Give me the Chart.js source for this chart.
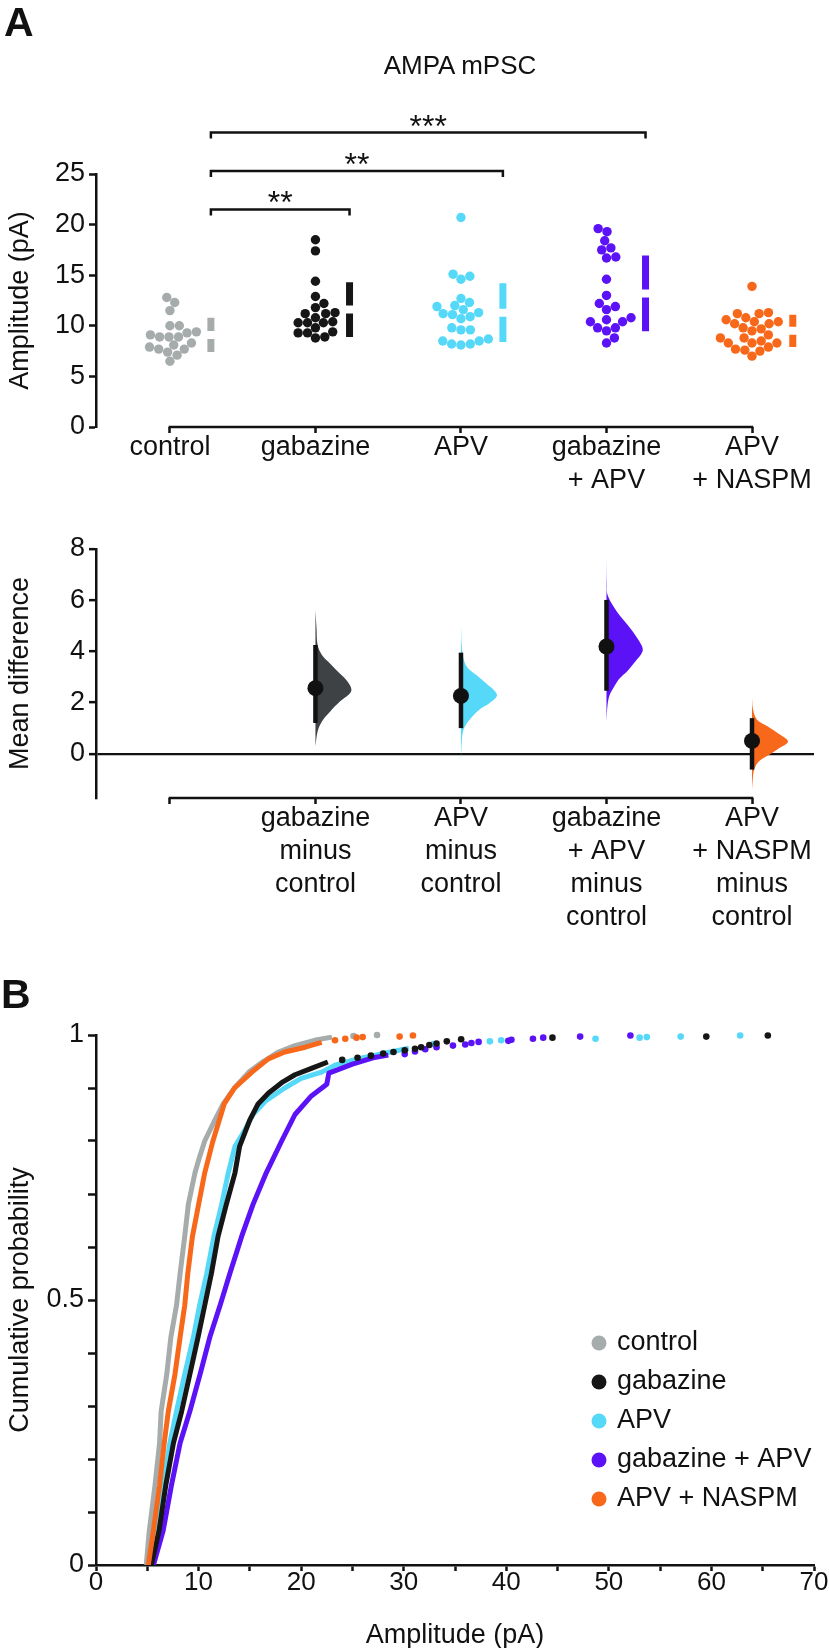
<!DOCTYPE html>
<html>
<head>
<meta charset="utf-8">
<script src="https://cdn.jsdelivr.net/npm/chart.js@4.4.1/dist/chart.umd.min.js"></script>
<style>
  body { margin: 0; background: #fff; width: 829px; height: 1648px; position: relative; overflow: hidden;
         font-family: "Liberation Sans", Arial, Helvetica, sans-serif; color: #111; }
  canvas { position: absolute; left: 0; }
  .lbl { position: absolute; line-height: 1; white-space: nowrap; }
</style>
</head>
<body>
<canvas id="swarm" width="829" height="500" style="top:0"></canvas>
<canvas id="diff" width="829" height="450" style="top:500px"></canvas>
<canvas id="cdf" width="829" height="698" style="top:950px"></canvas>
<div class="lbl" style="left:4px;top:2px;font-size:41px;font-weight:bold">A</div>
<div class="lbl" style="left:300px;width:320px;text-align:center;top:52px;font-size:26px">AMPA mPSC</div>
<div class="lbl" style="left:1px;top:974px;font-size:41px;font-weight:bold">B</div>
<script>
// groups and colours
const groups = ['control', 'gabazine', 'APV', 'gabazine + APV', 'APV + NASPM'];
const colors = ['#a6abab', '#161616', '#56d8f8', '#5b12f6', '#f8681a'];

// mPSC amplitude per cell (pA)
const controlAmp = [12.8, 12.3, 11.5, 10.0, 10.0, 9.4, 9.3, 9.1, 8.9, 8.9, 8.9, 8.3, 8.1, 7.9, 7.7, 7.7, 7.4, 7.1, 6.5];
const gabazineAmp = [18.5, 17.4, 14.4, 12.9, 12.2, 11.8, 11.3, 11.2, 11.2, 10.8, 10.4, 10.3, 10.3, 10.3, 9.8, 9.4, 9.3, 9.3, 8.9, 8.8];
const apvAmp = [20.7, 15.1, 14.9, 14.6, 12.7, 12.3, 12.0, 11.9, 11.6, 11.3, 11.2, 11.1, 10.9, 10.7, 9.8, 9.6, 9.6, 8.7, 8.5, 8.5, 8.2, 8.2, 8.1];
const gabApvAmp = [19.6, 19.3, 18.4, 17.7, 17.5, 16.8, 16.7, 14.6, 13.0, 12.2, 11.9, 11.6, 10.8, 10.6, 10.4, 10.4, 9.8, 9.8, 9.5, 8.8, 8.3];
const naspmAmp = [13.9, 11.3, 11.2, 11.2, 10.8, 10.6, 10.4, 10.4, 10.2, 10.2, 9.8, 9.7, 9.5, 9.1, 8.8, 8.8, 8.5, 8.3, 8.3, 8.3, 7.9, 7.7, 7.6, 7.5, 7.0];
const groupMeans = [9.1, 11.6, 11.3, 13.2, 9.5];
const groupSDs = [1.7, 2.7, 2.9, 3.75, 1.6];

// significance vs control
const sigPairs = [[0, 1], [0, 2], [0, 3]];
const sigStars = ['**', '**', '***'];

// mean difference vs control, 95% CI
const diffMean = [2.56, 2.26, 4.19, 0.5];
const ciLow = [1.2, 1.0, 2.46, -0.62];
const ciHigh = [4.25, 3.95, 6.01, 1.39];
// bootstrap distributions: [mean difference, relative density]
const gabazineBoot = [[5.62, 0], [4.9, 0.03], [4.25, 0.06], [3.86, 0.18], [3.6, 0.35], [3.21, 0.62], [2.82, 0.89], [2.5, 1], [2.3, 0.92], [2.04, 0.68], [1.65, 0.41], [1.26, 0.18], [0.87, 0.06], [0.29, 0]];
const apvBoot = [[5.03, 0], [4.06, 0.03], [3.54, 0.11], [3.28, 0.24], [3.02, 0.48], [2.76, 0.69], [2.3, 1], [1.98, 0.8], [1.72, 0.51], [1.33, 0.24], [0.94, 0.07], [0.42, 0.02], [-0.31, 0]];
const gabApvBoot = [[7.64, 0], [6.6, 0.01], [6.2, 0.03], [5.55, 0.29], [4.9, 0.66], [4.25, 0.97], [3.99, 1], [3.6, 0.8], [3.21, 0.57], [2.95, 0.37], [2.69, 0.24], [2.3, 0.09], [1.91, 0.03], [1.26, 0]];
const naspmBoot = [[2.17, 0], [1.72, 0.03], [1.33, 0.14], [1.07, 0.43], [0.81, 0.71], [0.48, 1], [0.22, 0.76], [-0.04, 0.48], [-0.3, 0.19], [-0.62, 0.06], [-1.01, 0.02], [-1.4, 0]];

// cumulative distributions of event amplitudes: [pA, probability]
const controlCdf = [[4.9, 0], [5.2, 0.065], [5.75, 0.15], [6.2, 0.23], [6.35, 0.29], [6.9, 0.36], [7.3, 0.43], [7.85, 0.49], [8.2, 0.55], [8.65, 0.62], [9.0, 0.68], [9.65, 0.74], [10.1, 0.77], [10.6, 0.8], [11.6, 0.84], [12.4, 0.87], [13.5, 0.9], [14.9, 0.93], [16.3, 0.95], [17.8, 0.968], [19.4, 0.98], [21.3, 0.99], [23.0, 0.996]];
const controlTail = [[25.1, 0.998], [27.4, 1.0]];
const gabazineCdf = [[5.4, 0], [6.15, 0.065], [6.8, 0.15], [7.55, 0.23], [8.35, 0.29], [9.15, 0.36], [9.95, 0.43], [10.6, 0.49], [11.25, 0.55], [11.9, 0.62], [12.7, 0.68], [13.55, 0.74], [14.0, 0.79], [15.0, 0.84], [15.8, 0.87], [16.8, 0.89], [18.1, 0.91], [19.4, 0.925], [21.0, 0.937], [22.6, 0.949]];
const gabazineTail = [[24.0, 0.953], [25.5, 0.957], [26.8, 0.961], [28.0, 0.965], [29.0, 0.968], [30.1, 0.971], [31.1, 0.974], [31.7, 0.977], [32.5, 0.981], [33.2, 0.984], [34.2, 0.988], [35.6, 0.992], [44.5, 0.995], [59.5, 0.997], [65.5, 0.999]];
const apvCdf = [[5.1, 0], [5.9, 0.065], [6.55, 0.15], [7.2, 0.23], [7.85, 0.29], [8.65, 0.36], [9.5, 0.43], [10.1, 0.49], [10.8, 0.55], [11.5, 0.62], [12.25, 0.68], [12.9, 0.74], [13.55, 0.79], [14.5, 0.82], [15.3, 0.85], [16.5, 0.875], [18.4, 0.9], [20.0, 0.918], [22.0, 0.93], [23.3, 0.943], [25.5, 0.955], [28.0, 0.965], [30.5, 0.975]];
const apvTail = [[32.9, 0.983], [38.4, 0.988], [39.5, 0.99], [48.7, 0.993], [53.0, 0.995], [53.7, 0.996], [57.0, 0.997], [62.8, 0.999]];
const gabApvCdf = [[5.6, 0], [6.55, 0.065], [7.35, 0.15], [8.2, 0.23], [9.15, 0.29], [10.15, 0.36], [11.1, 0.43], [12.1, 0.49], [13.05, 0.55], [14.2, 0.62], [15.3, 0.68], [16.6, 0.74], [18.1, 0.8], [19.4, 0.85], [21.0, 0.885], [22.5, 0.907], [22.7, 0.928], [25.0, 0.945], [27.0, 0.957], [28.5, 0.962]];
const gabApvTail = [[30.1, 0.964], [31.1, 0.969], [32.1, 0.973], [33.2, 0.977], [34.8, 0.98], [36.0, 0.982], [36.6, 0.985], [37.3, 0.987], [40.2, 0.989], [40.5, 0.991], [42.6, 0.993], [43.6, 0.995], [47.2, 0.997], [52.1, 0.999]];
const naspmCdf = [[5.1, 0], [5.6, 0.065], [6.2, 0.15], [6.65, 0.23], [7.05, 0.29], [7.7, 0.36], [8.2, 0.43], [8.65, 0.49], [8.95, 0.55], [9.4, 0.62], [10.0, 0.68], [10.6, 0.74], [11.4, 0.8], [12.5, 0.87], [13.5, 0.9], [15.2, 0.93], [16.8, 0.955], [18.4, 0.968], [20.4, 0.977], [22.0, 0.986]];
const naspmTail = [[23.3, 0.99], [24.3, 0.993], [25.4, 0.995], [26.0, 0.996], [29.6, 0.997], [30.9, 0.999]];

// ---- layout / style ----
const INK = '#111';
const AXIS_W = 2.5;
const FONT = '"Liberation Sans", Arial, Helvetica, sans-serif';
const PLOT_LEFT = 96, PLOT_RIGHT = 814;
const X_MIN = -0.508, X_MAX = 4.426;
const pxPerX = (PLOT_RIGHT - PLOT_LEFT) / (X_MAX - X_MIN);

Chart.defaults.font.family = FONT;
Chart.defaults.color = INK;

const splitName = name => name.replace(' + ', '\n+ ').split('\n');
const topLabels = groups.map(splitName);
const diffLabels = groups.map((g, i) => i === 0 ? '' : splitName(g).concat(['minus', groups[0]]));

function catAxis(labels, pad, height) {
  return {
    type: 'linear', min: X_MIN, max: X_MAX,
    afterBuildTicks: s => { s.ticks = labels.map((_, i) => ({ value: i })); },
    ticks: { autoSkip: false, maxRotation: 0, padding: pad, font: { size: 27, lineHeight: 1.22 }, color: INK,
             callback: v => labels[v] },
    grid: { drawOnChartArea: false, tickLength: 6, tickColor: INK, tickWidth: AXIS_W },
    border: { display: false },
    afterFit: s => { s.height = height; }
  };
}

// x axis line that runs only between first and last group
const catAxisLine = {
  id: 'catAxisLine',
  afterDraw(chart) {
    const { ctx, chartArea, scales: { x } } = chart;
    ctx.save();
    ctx.strokeStyle = INK;
    ctx.lineWidth = AXIS_W;
    ctx.beginPath();
    ctx.moveTo(x.getPixelForValue(0) - AXIS_W / 2, chartArea.bottom);
    ctx.lineTo(x.getPixelForValue(groups.length - 1) + AXIS_W / 2, chartArea.bottom);
    ctx.stroke();
    ctx.restore();
  }
};

function beeswarm(ys, d) {
  const idx = ys.map((_, i) => i).sort((a, b) => ys[a] - ys[b]);
  const placed = [], xs = [];
  idx.forEach(i => {
    const y = ys[i];
    const cands = [0];
    placed.forEach(p => {
      const dy = Math.abs(p.y - y);
      if (dy < d) {
        const dx = Math.sqrt(d * d - dy * dy);
        cands.push(p.x + dx, p.x - dx);
      }
    });
    cands.sort((a, b) => Math.abs(a) - Math.abs(b));
    const ok = cands.find(c => placed.every(p => (p.x - c) ** 2 + (p.y - y) ** 2 >= d * d - 0.01));
    xs[i] = ok;
    placed.push({ x: ok, y });
  });
  return xs;
}

// ---- A top: swarm plot ----
const TOP1 = 174, BOTTOM1 = 427, YMAX1 = 25;
const pxPerY1 = (BOTTOM1 - TOP1) / YMAX1;
const DOT_R = 4.7;
const swarmVals = [controlAmp, gabazineAmp, apvAmp, gabApvAmp, naspmAmp];
const swarmSets = [], barSets = [], barX = [];
swarmVals.forEach((vals, i) => {
  const offs = beeswarm(vals.map(v => v * pxPerY1), DOT_R * 2);
  const bx = i + (Math.max(...offs) + 14.5) / pxPerX;
  barX.push(bx);
  swarmSets.push({
    type: 'scatter', data: vals.map((v, k) => ({ x: i + offs[k] / pxPerX, y: v })),
    pointRadius: DOT_R, pointBackgroundColor: colors[i], pointBorderWidth: 0, order: 3
  });
  const m = groupMeans[i], s = groupSDs[i], g = 4 / pxPerY1;
  barSets.push({
    type: 'line', showLine: true,
    data: [{ x: bx, y: m + s }, { x: bx, y: m + g }, { x: bx, y: null }, { x: bx, y: m - g }, { x: bx, y: m - s }],
    borderColor: colors[i], borderWidth: 7, borderCapStyle: 'butt', pointRadius: 0, spanGaps: false, order: 2
  });
});
const bracketSets = sigPairs.map(([a, b], k) => {
  const lvl = 21.5 + k * 3.8, drop = 0.6;
  return {
    type: 'line', showLine: true, label: sigStars[k],
    data: [{ x: barX[a], y: lvl - drop }, { x: barX[a], y: lvl }, { x: barX[b], y: lvl }, { x: barX[b], y: lvl - drop }],
    borderColor: INK, borderWidth: 2.5, borderJoinStyle: 'miter', pointRadius: 0, clip: false, order: 1
  };
});

const starsPlugin = {
  id: 'stars',
  afterDatasetsDraw(chart) {
    const { ctx, scales: { x, y } } = chart;
    ctx.save();
    ctx.font = '32px ' + FONT;
    ctx.textAlign = 'center';
    ctx.textBaseline = 'alphabetic';
    ctx.fillStyle = INK;
    bracketSets.forEach(b => {
      const p = b.data;
      ctx.fillText(b.label, x.getPixelForValue((p[1].x + p[2].x) / 2), y.getPixelForValue(p[1].y) + 4);
    });
    ctx.restore();
  }
};

new Chart(document.getElementById('swarm'), {
  type: 'scatter',
  data: { datasets: [...bracketSets, ...barSets, ...swarmSets] },
  options: {
    responsive: false, animation: false,
    layout: { padding: { top: TOP1, right: 829 - PLOT_RIGHT, left: 0, bottom: 0 } },
    scales: {
      x: catAxis(topLabels, -2, 500 - BOTTOM1),
      y: {
        min: 0, max: YMAX1,
        ticks: { stepSize: 5, font: { size: 27 }, color: INK, padding: 4 },
        grid: { drawOnChartArea: false, tickLength: 7, tickColor: INK, tickWidth: AXIS_W },
        border: { color: INK, width: AXIS_W },
        title: { display: true, text: 'Amplitude (pA)', color: INK, font: { size: 27 }, padding: { top: 4, bottom: 0 } },
        afterFit: s => { s.width = PLOT_LEFT; }
      }
    },
    plugins: { legend: { display: false }, tooltip: { enabled: false } }
  },
  plugins: [catAxisLine, starsPlugin]
});

// ---- A bottom: mean difference ----
const diffColors = ['#3e4245', colors[2], colors[3], colors[4]];
const bootProfiles = [gabazineBoot, apvBoot, gabApvBoot, naspmBoot];
const VIOLIN_W = 36 / pxPerX;
const violinSets = bootProfiles.map((prof, k) => ({
  type: 'line', showLine: true, data: prof.map(([v, d]) => ({ x: k + 1 + d * VIOLIN_W, y: v })),
  fill: 'shape', backgroundColor: diffColors[k], borderColor: 'rgba(0,0,0,0)', borderWidth: 1,
  pointRadius: 0, tension: 0.35, order: 3
}));
const ciSets = diffMean.map((_, k) => ({
  type: 'line', showLine: true, data: [{ x: k + 1, y: ciLow[k] }, { x: k + 1, y: ciHigh[k] }],
  borderColor: INK, borderWidth: 4.5, borderCapStyle: 'butt', pointRadius: 0, order: 2
}));
const meanSet = {
  type: 'scatter', data: diffMean.map((m, k) => ({ x: k + 1, y: m })),
  pointRadius: 8, pointBackgroundColor: INK, pointBorderWidth: 0, order: 1
};

new Chart(document.getElementById('diff'), {
  type: 'scatter',
  data: { datasets: [...violinSets, ...ciSets, meanSet] },
  options: {
    responsive: false, animation: false,
    layout: { padding: { top: 49, right: 829 - PLOT_RIGHT, left: 0, bottom: 0 } },
    scales: {
      x: catAxis(diffLabels, -2, 152),
      y: {
        min: -1.73, max: 8, z: 1,
        afterBuildTicks: s => { s.ticks = [0, 2, 4, 6, 8].map(v => ({ value: v })); },
        ticks: { font: { size: 27 }, color: INK, padding: 4 },
        grid: {
          drawOnChartArea: true, tickLength: 7, tickColor: INK, tickWidth: AXIS_W, lineWidth: 2.3,
          color: c => (c.tick && c.tick.value === 0) ? INK : 'rgba(0,0,0,0)'
        },
        border: { color: INK, width: AXIS_W },
        title: { display: true, text: 'Mean difference', color: INK, font: { size: 27 }, padding: { top: 4, bottom: 0 } },
        afterFit: s => { s.width = PLOT_LEFT; }
      }
    },
    plugins: { legend: { display: false }, tooltip: { enabled: false } }
  },
  plugins: [catAxisLine]
});

// ---- B: cumulative probability ----
const cdfSets = [controlCdf, gabazineCdf, apvCdf, gabApvCdf, naspmCdf];
const tailSets = [controlTail, gabazineTail, apvTail, gabApvTail, naspmTail];
const cdfOrder = [5, 2, 4, 3, 1];
const cdfDatasets = [];
cdfSets.forEach((pts, i) => {
  cdfDatasets.push({
    type: 'line', showLine: true, data: pts.map(([a, p]) => ({ x: a, y: p })),
    borderColor: colors[i], borderWidth: 5, borderJoinStyle: 'round', pointRadius: 0, order: cdfOrder[i]
  });
  cdfDatasets.push({
    type: 'scatter', data: tailSets[i].map(([a, p]) => ({ x: a, y: p })),
    pointRadius: 3.3, pointBackgroundColor: colors[i], pointBorderWidth: 0, clip: false, order: cdfOrder[i]
  });
});

const dotLegend = {
  id: 'dotLegend',
  afterDraw(chart, args, opts) {
    const ctx = chart.ctx;
    ctx.save();
    ctx.font = '27px ' + FONT;
    ctx.textBaseline = 'middle';
    groups.forEach((g, i) => {
      const y = opts.y + i * opts.gap;
      ctx.fillStyle = colors[i];
      ctx.beginPath();
      ctx.arc(opts.x, y, 7.5, 0, Math.PI * 2);
      ctx.fill();
      ctx.fillStyle = INK;
      ctx.fillText(g, opts.x + 18, y);
    });
    ctx.restore();
  }
};

new Chart(document.getElementById('cdf'), {
  type: 'scatter',
  data: { datasets: cdfDatasets },
  options: {
    responsive: false, animation: false,
    layout: { padding: { top: 85, right: 829 - PLOT_RIGHT, left: 0, bottom: 0 } },
    scales: {
      x: {
        min: 0, max: 70,
        ticks: { stepSize: 5, autoSkip: false, maxRotation: 0, padding: -1, font: { size: 26, lineHeight: 1 }, color: INK,
                 callback: v => v % 10 === 0 ? String(v) : '' },
        grid: { drawOnChartArea: false, tickLength: 6, tickColor: INK, tickWidth: AXIS_W },
        border: { color: INK, width: AXIS_W },
        title: { display: true, text: 'Amplitude (pA)', color: INK, font: { size: 27, lineHeight: 0.9 }, padding: 0 },
        afterFit: s => { s.height = 83; }
      },
      y: {
        min: 0, max: 1,
        ticks: { stepSize: 0.1, autoSkip: false, font: { size: 27 }, color: INK, padding: 4,
                 callback: v => { const r = Math.round(v * 10); return r % 5 === 0 ? String(r / 10) : ''; } },
        grid: { drawOnChartArea: false, tickLength: 8, tickColor: INK, tickWidth: AXIS_W },
        border: { color: INK, width: AXIS_W },
        title: { display: true, text: 'Cumulative probability', color: INK, font: { size: 27 }, padding: { top: 4, bottom: 0 } },
        afterFit: s => { s.width = PLOT_LEFT; }
      }
    },
    plugins: { legend: { display: false }, tooltip: { enabled: false }, dotLegend: { x: 599, y: 393, gap: 39 } }
  },
  plugins: [dotLegend]
});
</script>
</body>
</html>
